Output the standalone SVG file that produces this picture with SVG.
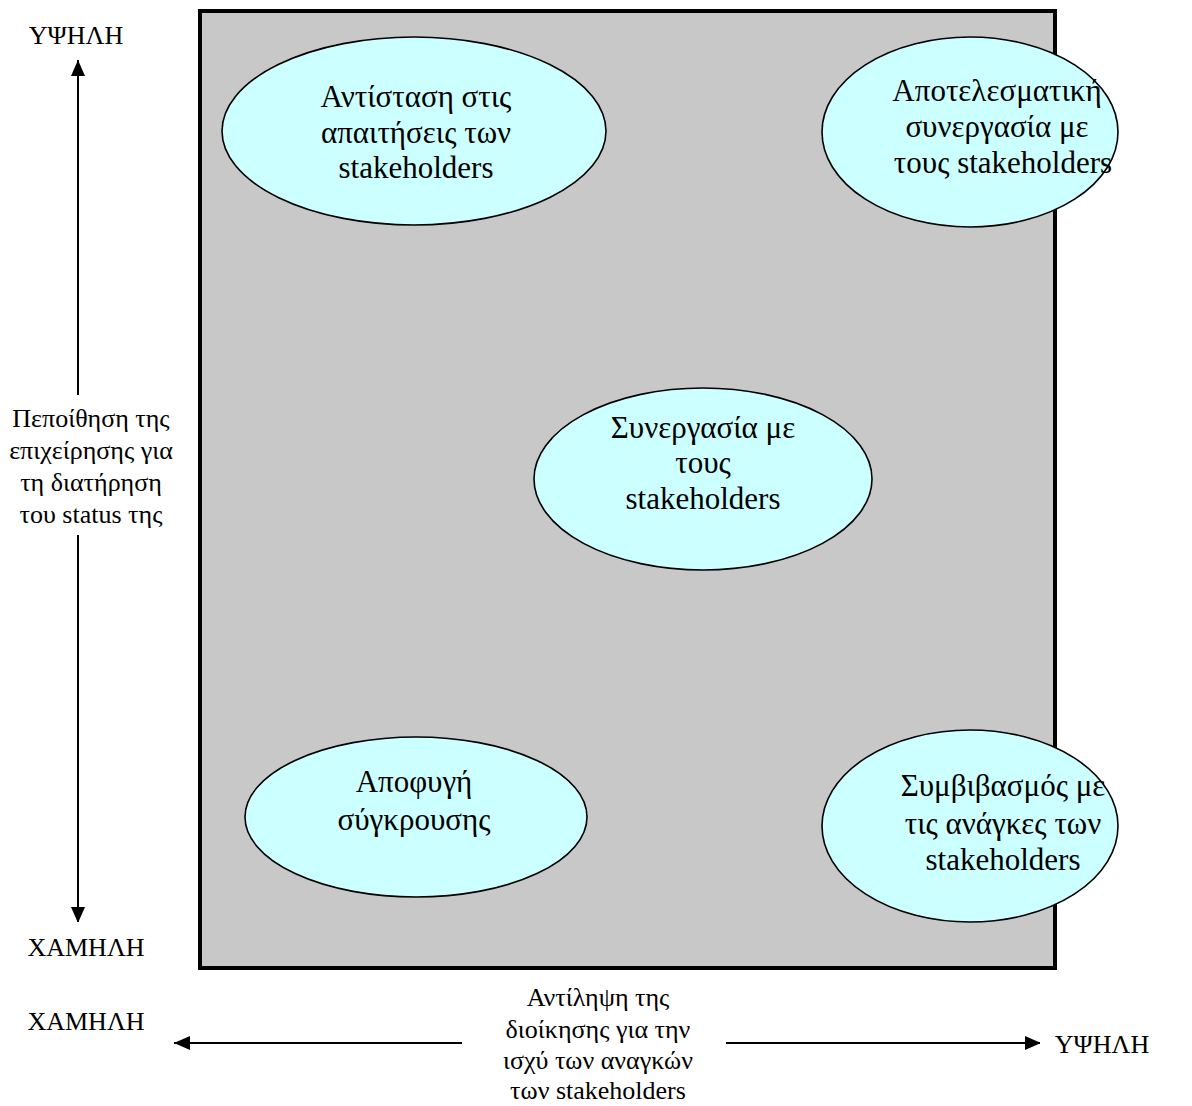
<svg xmlns="http://www.w3.org/2000/svg" width="1192" height="1106" viewBox="0 0 1192 1106">
<defs>
<marker id="ah" viewBox="0 0 16 14" refX="16" refY="7" markerWidth="16" markerHeight="14" markerUnits="userSpaceOnUse" orient="auto">
<path d="M0,0 L16,7 L0,14 Z" fill="#000"/>
</marker>
<style>
text{font-family:"Liberation Serif","Times New Roman","DejaVu Serif",serif;fill:#000;text-anchor:middle}
.n{font-size:31px}
.a{font-size:26px}
.el{fill:#ccffff;stroke:#000;stroke-width:1.6}
.ln{stroke:#000;stroke-width:2;fill:none}
.bg{fill:#fff}
</style>
</defs>
<rect x="0" y="0" width="1192" height="1106" fill="#fff"/>
<rect id="frame" x="200" y="11" width="855" height="957" fill="#c8c8c8" stroke="#000" stroke-width="4"/>
<g id="connectors">
<line class="ln" x1="78" y1="395" x2="78" y2="60" marker-end="url(#ah)"/>
<line class="ln" x1="78" y1="535" x2="78" y2="923" marker-end="url(#ah)"/>
<line class="ln" x1="462" y1="1043" x2="174" y2="1043" marker-end="url(#ah)"/>
<line class="ln" x1="726" y1="1043" x2="1041" y2="1043" marker-end="url(#ah)"/>
</g>
<g id="n1">
<ellipse class="el" cx="414" cy="131" rx="192" ry="94"/>
<text class="n" x="416" y="107">Αντίσταση στις</text>
<text class="n" x="416" y="143">απαιτήσεις των</text>
<text class="n" x="416" y="178">stakeholders</text>
</g>
<g id="n2">
<ellipse class="el" cx="970" cy="132" rx="148" ry="95"/>
<text class="n" x="997" y="101">Αποτελεσματική</text>
<text class="n" x="997" y="137">συνεργασία με</text>
<text class="n" x="1003" y="173">τους stakeholders</text>
</g>
<g id="n3">
<ellipse class="el" cx="703" cy="479" rx="169" ry="91"/>
<text class="n" x="703" y="438">Συνεργασία με</text>
<text class="n" x="703" y="473">τους</text>
<text class="n" x="703" y="509">stakeholders</text>
</g>
<g id="n4">
<ellipse class="el" cx="416" cy="817" rx="171" ry="80"/>
<text class="n" x="414" y="792">Αποφυγή</text>
<text class="n" x="414" y="830">σύγκρουσης</text>
</g>
<g id="n5">
<ellipse class="el" cx="970" cy="826" rx="148" ry="96"/>
<text class="n" x="1003" y="796">Συμβιβασμός με</text>
<text class="n" x="1003" y="834">τις ανάγκες των</text>
<text class="n" x="1003" y="870">stakeholders</text>
</g>
<g id="yHigh">
<rect class="bg" x="6" y="10" width="145" height="48"/>
<text class="a" x="76" y="44">ΥΨΗΛΗ</text>
</g>
<g id="yLabel">
<rect class="bg" x="4" y="397" width="190" height="137"/>
<text class="a" x="91" y="427">Πεποίθηση της</text>
<text class="a" x="91" y="459">επιχείρησης για</text>
<text class="a" x="91" y="491">τη διατήρηση</text>
<text class="a" x="91" y="523">του status της</text>
</g>
<g id="yLow">
<rect class="bg" x="6" y="922" width="170" height="48"/>
<text class="a" x="86" y="956">ΧΑΜΗΛΗ</text>
</g>
<g id="xLow">
<rect class="bg" x="6" y="996" width="168" height="70"/>
<text class="a" x="86" y="1030">ΧΑΜΗΛΗ</text>
</g>
<g id="xLabel">
<rect class="bg" x="463" y="974" width="262" height="132"/>
<text class="a" x="598" y="1006">Αντίληψη της</text>
<text class="a" x="598" y="1038">διοίκησης για την</text>
<text class="a" x="598" y="1069">ισχύ των αναγκών</text>
<text class="a" x="598" y="1099">των stakeholders</text>
</g>
<g id="xHigh">
<rect class="bg" x="1040" y="1018" width="145" height="72"/>
<text class="a" x="1102" y="1053">ΥΨΗΛΗ</text>
</g>
</svg>
